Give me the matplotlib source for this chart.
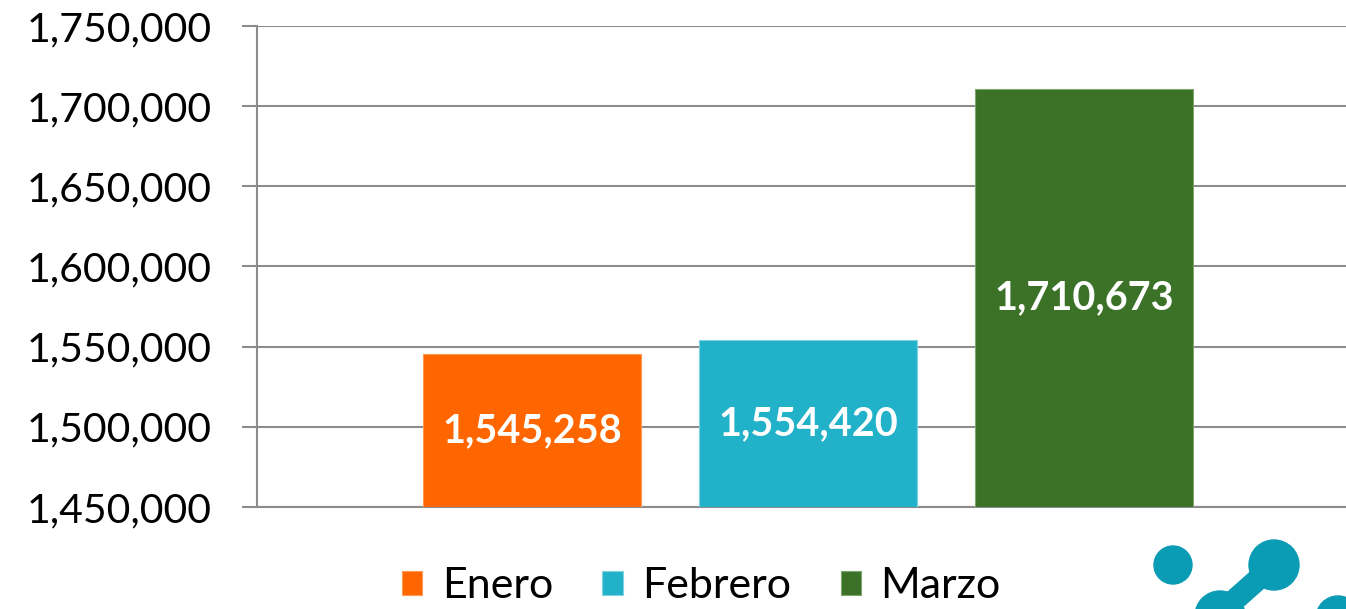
import matplotlib
matplotlib.use("Agg")
import matplotlib.pyplot as plt
from matplotlib.patches import Circle
from matplotlib.lines import Line2D
from matplotlib.ticker import FuncFormatter

series = ["Enero", "Febrero", "Marzo"]
values = [1545258, 1554420, 1710673]
colors = ["#FF6600", "#21B1C9", "#3C7228"]
edge_colors = ["#FF9955", "#7FD3E0", "#7FA56E"]
yticks = [1450000, 1500000, 1550000, 1600000, 1650000, 1700000, 1750000]

plt.rcParams['font.family'] = ['Lato', 'DejaVu Sans']

W, H, DPI = 1346, 609, 100
fig = plt.figure(figsize=(W / DPI, H / DPI), dpi=DPI)
ax = fig.add_axes([257 / W, 1 - 507 / H, (1346 - 257) / W, (507 - 26) / H])

positions = [-1, 0, 1]
width = 0.79
for pos, v, c, ec, name in zip(positions, values, colors, edge_colors, series):
    ax.bar(pos, v - yticks[0], bottom=yticks[0], width=width, color=c,
           edgecolor=ec, linewidth=0.8, label=name, zorder=3)
    ax.text(pos, (v + yticks[0]) / 2, f"{v:,}", ha="center", va="center",
            color="white", fontsize=28.5, fontweight="bold", zorder=4)

ax.set_xlim(-1.996, 1.949)
ax.set_ylim(yticks[0], yticks[-1])
ax.set_yticks(yticks)
ax.yaxis.set_major_formatter(FuncFormatter(lambda v, p: f"{int(v):,}"))
ax.set_xticks([])
ax.grid(axis="y", color="#8C8C8C", linewidth=1.5, zorder=0)
for s in ["top", "right"]:
    ax.spines[s].set_visible(False)
for s in ["left", "bottom"]:
    ax.spines[s].set_color("#8C8C8C")
    ax.spines[s].set_linewidth(1.5)
ax.tick_params(axis="y", length=10.8, width=1.5, color="#8C8C8C",
               labelsize=29.5, pad=22, labelcolor="black")

leg = fig.legend(loc="center", bbox_to_anchor=(0.521, 1 - 586 / H), ncol=3,
                 frameon=False, fontsize=31, handlelength=0.47, handleheight=0.47,
                 handletextpad=0.45, columnspacing=1.15, borderpad=0.1)

# logo in bottom right corner
logo_color = "#0A9BB5"
tr = fig.dpi_scale_trans
def px(x, y):
    return (x / DPI, (H - y) / DPI)
fig.add_artist(Line2D([1274 / DPI, 1220 / DPI], [(H - 565) / DPI, (H - 613) / DPI],
                      transform=tr, color=logo_color, linewidth=16, solid_capstyle="round"))
for (cx, cy, r) in [(1173, 565, 19), (1274, 565, 25), (1220, 616, 25), (1338, 618, 22)]:
    fig.add_artist(Circle(px(cx, cy), r / DPI, transform=tr, color=logo_color))

fig.savefig("out.png", dpi=DPI)
